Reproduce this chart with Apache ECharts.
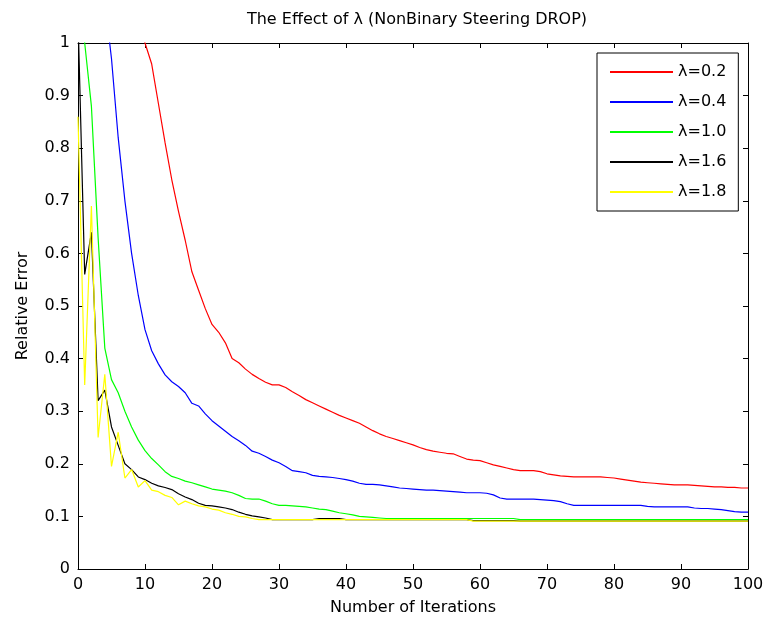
<!DOCTYPE html>
<html>
<head>
<meta charset="utf-8">
<script src="https://cdn.jsdelivr.net/npm/echarts@6/dist/echarts.min.js"></script>
<style>html,body{margin:0;padding:0;background:#fff;}#c{width:766px;height:624px;}</style>
</head>
<body>
<div id="c"></div>
<script>
var iterations = [0,1,2,3,4,5,6,7,8,9,10,11,12,13,14,15,16,17,18,19,20,21,22,23,24,25,26,27,28,29,30,31,32,33,34,35,36,37,38,39,40,41,42,43,44,45,46,47,48,49,50,51,52,53,54,55,56,57,58,59,60,61,62,63,64,65,66,67,68,69,70,71,72,73,74,75,76,77,78,79,80,81,82,83,84,85,86,87,88,89,90,91,92,93,94,95,96,97,98,99,100];

var seriesNames = ['λ=0.2','λ=0.4','λ=1.0','λ=1.6','λ=1.8'];

var lambda02 = [1.75,1.62,1.52,1.43,1.35,1.28,1.21,1.15,1.09,1.04,1.00,0.96,0.885,0.81,0.74,0.68,0.625,0.565,0.53,0.495,0.465,0.45,0.43,0.40,0.392,0.38,0.37,0.362,0.355,0.35,0.35,0.345,0.337,0.33,0.322,0.316,0.310,0.304,0.298,0.292,0.287,0.282,0.277,0.270,0.263,0.257,0.252,0.248,0.244,0.240,0.236,0.231,0.227,0.224,0.222,0.220,0.219,0.214,0.209,0.207,0.206,0.202,0.198,0.195,0.192,0.189,0.187,0.187,0.187,0.185,0.181,0.179,0.177,0.176,0.175,0.175,0.175,0.175,0.175,0.174,0.173,0.171,0.169,0.167,0.165,0.164,0.163,0.162,0.161,0.160,0.160,0.160,0.159,0.158,0.157,0.156,0.156,0.155,0.155,0.154,0.154];

var lambda04 = [1.75,1.55,1.38,1.22,1.08,0.97,0.82,0.70,0.60,0.52,0.455,0.415,0.39,0.369,0.356,0.347,0.335,0.315,0.31,0.295,0.282,0.272,0.262,0.252,0.244,0.235,0.224,0.22,0.214,0.207,0.202,0.195,0.187,0.185,0.183,0.178,0.176,0.175,0.174,0.172,0.170,0.167,0.163,0.161,0.161,0.160,0.158,0.156,0.154,0.153,0.152,0.151,0.150,0.150,0.149,0.148,0.147,0.146,0.145,0.145,0.145,0.144,0.141,0.135,0.133,0.133,0.133,0.133,0.133,0.132,0.131,0.130,0.128,0.124,0.121,0.121,0.121,0.121,0.121,0.121,0.121,0.121,0.121,0.121,0.121,0.119,0.118,0.118,0.118,0.118,0.118,0.118,0.116,0.115,0.115,0.114,0.113,0.111,0.109,0.108,0.108];

var lambda10 = [1.25,1.00,0.88,0.63,0.42,0.36,0.335,0.30,0.27,0.245,0.225,0.21,0.198,0.185,0.176,0.172,0.167,0.164,0.160,0.156,0.152,0.150,0.148,0.145,0.140,0.134,0.133,0.133,0.129,0.124,0.121,0.121,0.120,0.119,0.118,0.116,0.114,0.113,0.110,0.107,0.105,0.103,0.100,0.099,0.098,0.097,0.096,0.096,0.096,0.096,0.096,0.096,0.096,0.096,0.096,0.096,0.096,0.096,0.096,0.096,0.096,0.096,0.096,0.096,0.096,0.096,0.094,0.094,0.094,0.094,0.094,0.094,0.094,0.094,0.094,0.094,0.094,0.094,0.094,0.094,0.094,0.094,0.094,0.094,0.094,0.094,0.094,0.094,0.094,0.094,0.094,0.094,0.094,0.094,0.094,0.094,0.094,0.094,0.094,0.094,0.094];

var lambda16 = [1.05,0.56,0.64,0.32,0.34,0.27,0.235,0.20,0.189,0.175,0.170,0.163,0.158,0.155,0.151,0.143,0.137,0.132,0.125,0.121,0.120,0.118,0.116,0.113,0.108,0.104,0.101,0.099,0.097,0.094,0.094,0.094,0.094,0.094,0.094,0.094,0.096,0.096,0.096,0.096,0.094,0.094,0.094,0.094,0.094,0.094,0.094,0.094,0.094,0.094,0.094,0.094,0.094,0.094,0.094,0.094,0.094,0.094,0.094,0.092,0.092,0.092,0.092,0.092,0.092,0.092,0.091,0.091,0.091,0.091,0.091,0.091,0.091,0.091,0.091,0.091,0.091,0.091,0.091,0.091,0.091,0.091,0.091,0.091,0.091,0.091,0.091,0.091,0.091,0.091,0.091,0.091,0.091,0.091,0.091,0.091,0.091,0.091,0.091,0.091,0.091];

var lambda18 = [0.86,0.35,0.69,0.25,0.37,0.195,0.26,0.173,0.189,0.156,0.168,0.15,0.147,0.14,0.136,0.122,0.129,0.124,0.12,0.118,0.114,0.112,0.107,0.104,0.100,0.099,0.096,0.094,0.094,0.094,0.094,0.094,0.094,0.094,0.094,0.094,0.094,0.094,0.094,0.094,0.094,0.094,0.094,0.094,0.094,0.094,0.094,0.094,0.094,0.094,0.094,0.094,0.094,0.094,0.094,0.094,0.094,0.094,0.094,0.091,0.091,0.091,0.091,0.091,0.091,0.091,0.091,0.091,0.091,0.091,0.091,0.091,0.091,0.091,0.091,0.091,0.091,0.091,0.091,0.091,0.091,0.091,0.091,0.091,0.091,0.091,0.091,0.091,0.091,0.091,0.091,0.091,0.091,0.091,0.091,0.091,0.091,0.091,0.091,0.091,0.091];

var xTicks = [0,10,20,30,40,50,60,70,80,90,100];
var yTickLabels = ['0','0.1','0.2','0.3','0.4','0.5','0.6','0.7','0.8','0.9','1'];

var allSeries = [lambda02, lambda04, lambda10, lambda16, lambda18];
var colors = ['#ff0000','#0000ff','#00ff00','#000000','#ffff00'];

var FONT = 'DejaVu Sans';
var FS = 16;
var chart = echarts.init(document.getElementById('c'), null, {renderer:'canvas'});

function pairs(arr){
  return iterations.map(function(x,i){ return [x, arr[i]]; });
}

var axisCommon = {
  axisLine: {show:true, onZero:false, lineStyle:{color:'#000', width:1}},
  axisTick: {show:true, inside:true, length:5, lineStyle:{color:'#000', width:1}},
  splitLine: {show:false}
};

var option = {
  backgroundColor: '#fff',
  animation: false,
  title: {
    text: 'The Effect of λ (NonBinary Steering DROP)',
    left: 412, textAlign: 'center', top: 7,
    textStyle: {fontFamily: FONT, fontSize: FS, fontWeight: 'normal', color:'#000'}
  },
  legend: {
    orient: 'vertical',
    left: 597, top: 53,
    padding: [11, 12, 11, 12],
    itemWidth: 63, itemHeight: 14, itemGap: 14,
    backgroundColor: '#fff',
    borderColor: '#000', borderWidth: 1,
    itemStyle: {opacity: 0},
    textStyle: {fontFamily: FONT, fontSize: FS, color:'#000'},
    data: seriesNames
  },
  grid: {left: 78, right: 18, top: 43, bottom: 55, containLabel: false, outerBoundsMode: 'none'},
  xAxis: [
    Object.assign({
      type: 'value', min: 0, max: 100, interval: 10, position: 'bottom',
      name: 'Number of Iterations', nameLocation: 'middle', nameGap: 31,
      nameTextStyle: {fontFamily: FONT, fontSize: FS, color:'#000'},
      axisLabel: {fontFamily: FONT, fontSize: FS, color:'#000', margin: 8,
        formatter: function(v){ return xTicks.indexOf(v) >= 0 ? String(v) : ''; }}
    }, axisCommon),
    Object.assign({
      type: 'value', min: 0, max: 100, interval: 10, position: 'top',
      axisLabel: {show:false}
    }, axisCommon)
  ],
  yAxis: [
    Object.assign({
      type: 'value', min: 0, max: 1, interval: 0.1, position: 'left',
      name: 'Relative Error', nameLocation: 'middle', nameGap: 47, nameRotate: 90,
      nameTextStyle: {fontFamily: FONT, fontSize: FS, color:'#000'},
      axisLabel: {fontFamily: FONT, fontSize: FS, color:'#000', margin: 8,
        formatter: function(v){ return yTickLabels[Math.round(v*10)]; }}
    }, axisCommon),
    Object.assign({
      type: 'value', min: 0, max: 1, interval: 0.1, position: 'right',
      axisLabel: {show:false}
    }, axisCommon)
  ],
  series: allSeries.map(function(arr, i){
    return {
      name: seriesNames[i], type: 'line', xAxisIndex: 0, yAxisIndex: 0,
      data: pairs(arr), symbol: 'none', showSymbol: false, clip: true,
      lineStyle: {color: colors[i], width: 1.2},
      itemStyle: {color: colors[i]},
      z: 2 + i
    };
  })
};
chart.setOption(option);
</script>
</body>
</html>
